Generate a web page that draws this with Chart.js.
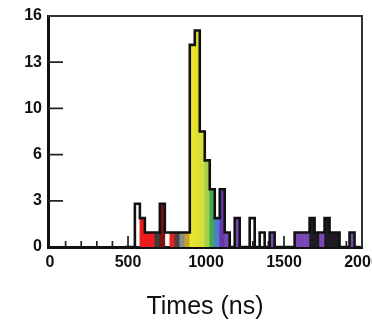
<!DOCTYPE html>
<html>
<head>
<meta charset="utf-8">
<script src="https://cdn.jsdelivr.net/npm/chart.js@4.4.1/dist/chart.umd.min.js"></script>
<style>
  html, body { margin: 0; padding: 0; background: #ffffff; }
  canvas { display: block; }
</style>
</head>
<body>
<canvas id="chart" width="372" height="320"></canvas>
<script>
// ---------------- data ----------------
const binWidthNs = 32;
const binStartNs = [
  480, 512, 544, 576, 608, 640, 672, 704, 736, 768, 800, 832, 864, 896, 928, 960,
  992, 1024, 1056, 1088, 1120, 1152, 1184, 1216, 1248, 1280, 1312, 1344, 1376, 1408,
  1440, 1472, 1504, 1536, 1568, 1600, 1632, 1664, 1696, 1728, 1760, 1792, 1824, 1856,
  1888, 1920, 1952
];
// all events per bin (black outline)
const totalCounts = [
  0, 0, 3, 2, 1, 1, 1, 3, 1, 1, 1, 1, 1, 14, 15, 8,
  6, 4, 2, 4, 1, 0, 2, 0, 0, 2, 0, 1, 0, 1,
  0, 0, 0, 0, 1, 1, 1, 2, 1, 1, 2, 1, 1, 0,
  0, 1, 0
];
// coloured part of each bin
const coloredCounts = [
  0, 0, 0, 2, 1, 1, 1, 3, 0, 1, 1, 1, 1, 14, 15, 8,
  6, 4, 2, 4, 1, 0, 2, 0, 0, 0, 0, 0, 0, 1,
  0, 0, 0, 0, 1, 1, 1, 2, 1, 1, 2, 1, 1, 0,
  0, 1, 0
];
const xTickValues = [0, 500, 1000, 1500, 2000];
const xTickLabels = ['0', '500', '1000', '1500', '2000'];
const yTickValues = [0, 3.2, 6.4, 9.6, 12.8, 16];
const yTickLabels = ['0', '3', '6', '10', '13', '16'];
const xAxisTitle = 'Times (ns)';

// ---------------- styles ----------------
const RED = '#ee1c1c', PURPLE = '#7a48b6', DARK = '#1e1a22';
const fillByBin = {
  576: RED, 608: RED, 640: RED, 672: '#3a3a3a', 704: '#7c1212', 768: RED,
  800: '#444444', 832: '#8c8c8c', 864: '#c9a226',
  896: '#e9e62e', 928: '#e2e030', 960: '#d3df3c', 992: '#a8cf48',
  1024: '#3faa55', 1056: '#4e7bd0', 1088: '#6538a8', 1120: PURPLE,
  1184: PURPLE, 1408: PURPLE, 1568: PURPLE, 1600: PURPLE, 1632: PURPLE,
  1664: DARK, 1696: DARK, 1728: PURPLE, 1760: DARK, 1792: DARK, 1824: DARK,
  1920: PURPLE
};
const FONT = '"Liberation Sans", Arial, Helvetica, sans-serif';
const INK = '#111111';

// ---------------- build datasets ----------------
const outlinePoints = binStartNs.map((s, i) => ({ x: s, y: totalCounts[i] }));
outlinePoints.push({ x: binStartNs[binStartNs.length - 1] + binWidthNs, y: 0 });

const colorBars = [];
const colorFills = [];
binStartNs.forEach((s, i) => {
  if (coloredCounts[i] > 0) {
    colorBars.push({ x: s + binWidthNs / 2, y: coloredCounts[i] });
    colorFills.push(fillByBin[s] || '#999999');
  }
});

const axisDecor = {
  id: 'axisDecor',
  beforeDatasetsDraw(chart) {
    const { ctx, chartArea: a, scales: { x, y } } = chart;
    ctx.save();
    ctx.strokeStyle = '#222222';
    ctx.lineWidth = 1.7;
    ctx.beginPath();
    yTickValues.forEach(v => {
      if (v <= y.min || v >= y.max) return;
      const py = y.getPixelForValue(v);
      ctx.moveTo(a.left, py);
      ctx.lineTo(a.left + 15, py);
    });
    for (let v = 100; v < 2000; v += 100) {
      const px = x.getPixelForValue(v);
      const len = v % 500 === 0 ? 11 : 6;
      ctx.moveTo(px, a.bottom);
      ctx.lineTo(px, a.bottom - len);
    }
    ctx.stroke();
    ctx.restore();
  },
  afterDraw(chart) {
    const { ctx, chartArea: a } = chart;
    ctx.save();
    ctx.strokeStyle = '#333333';
    ctx.lineWidth = 2;
    ctx.beginPath();
    ctx.moveTo(a.left, a.top);
    ctx.lineTo(a.right, a.top);
    ctx.lineTo(a.right, a.bottom);
    ctx.stroke();
    ctx.restore();
  }
};

new Chart(document.getElementById('chart'), {
  data: {
    datasets: [
      {
        type: 'line',
        data: outlinePoints,
        stepped: true,
        borderColor: INK,
        borderWidth: 2.6,
        borderJoinStyle: 'miter',
        pointRadius: 0,
        fill: false,
        order: 0
      },
      {
        type: 'bar',
        data: colorBars,
        backgroundColor: colorFills,
        borderWidth: 0,
        barPercentage: 1,
        categoryPercentage: 1,
        order: 1
      }
    ]
  },
  options: {
    responsive: false,
    animation: false,
    layout: { padding: { left: 0, right: 10, top: 16, bottom: 0 } },
    plugins: { legend: { display: false }, tooltip: { enabled: false } },
    scales: {
      x: {
        type: 'linear',
        offset: false,
        min: -13,
        max: 2000,
        afterBuildTicks: s => { s.ticks = xTickValues.map(v => ({ value: v })); },
        ticks: {
          callback: v => xTickLabels[xTickValues.indexOf(v)],
          autoSkip: false, maxRotation: 0, padding: 6,
          color: INK, font: { family: FONT, size: 16, weight: 'bold' }
        },
        grid: { display: false, drawTicks: false },
        border: { display: true, color: INK, width: 3 },
        title: {
          display: true, text: xAxisTitle, color: INK,
          font: { family: FONT, size: 25 },
          padding: { top: 0, bottom: -2 }
        },
        afterFit: s => { s.height = 73; s.paddingLeft = 0; s.paddingRight = 0; }
      },
      y: {
        type: 'linear',
        min: 0,
        max: 16,
        afterBuildTicks: s => { s.ticks = yTickValues.map(v => ({ value: v })); },
        ticks: {
          callback: v => yTickLabels[yTickValues.indexOf(v)],
          padding: 6,
          color: INK, font: { family: FONT, size: 16, weight: 'bold' }
        },
        grid: { display: false, drawTicks: false },
        border: { display: true, color: INK, width: 3 },
        afterFit: s => { s.width = 48; s.paddingTop = 0; s.paddingBottom = 0; }
      }
    }
  },
  plugins: [axisDecor]
});
</script>
</body>
</html>
